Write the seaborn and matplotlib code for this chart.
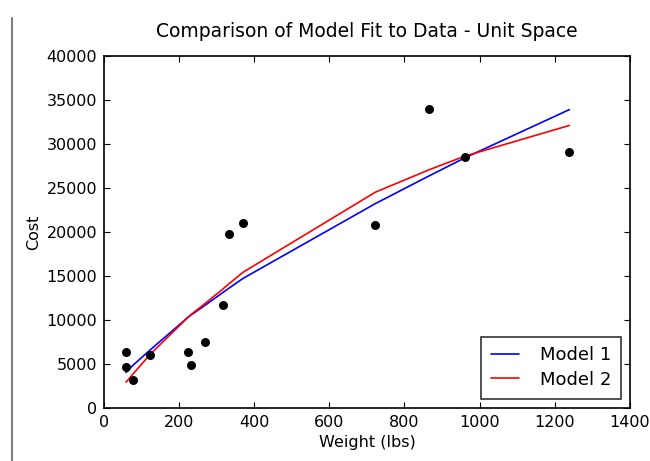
import numpy as np
import pandas as pd
import seaborn as sns
import matplotlib.pyplot as plt
from matplotlib.lines import Line2D

# Observed data (weight in lbs, cost)
weight = [58.7, 59.7, 76.5, 123.7, 224, 232, 269, 316.5, 333, 370, 722, 865, 960, 1239]
cost = [4660, 6295, 3110, 6020, 6360, 4815, 7500, 11640, 19740, 20990, 20800, 34020, 28520, 29060]

# Model predictions read at each weight
model1 = [4000, 4050, 4800, 6600, 10300, 10550, 11650, 13100, 13600, 14700, 23200, 26350, 28400, 33900]
model2 = [2900, 2950, 3800, 6100, 10300, 10600, 11850, 13500, 14100, 15400, 24500, 27050, 28600, 32100]

df = pd.DataFrame({"weight": weight, "cost": cost, "Model 1": model1, "Model 2": model2})

sns.set_style("ticks")
plt.rcParams.update({
    "xtick.direction": "in", "ytick.direction": "in",
    "xtick.top": True, "ytick.right": True,
    "xtick.major.size": 4, "ytick.major.size": 4,
    "axes.linewidth": 1.2, "font.family": ["DejaVu Sans"],
    "text.color": "black", "axes.labelcolor": "black",
    "xtick.color": "black", "ytick.color": "black", "axes.edgecolor": "black",
})

fig = plt.figure(figsize=(6.5, 4.61), dpi=100)
ax = fig.add_axes([0.160, 0.1156, 0.809, 0.763])

sns.scatterplot(data=df, x="weight", y="cost", color="black", s=42,
                edgecolor="black", linewidth=0, ax=ax, zorder=3)
sns.lineplot(data=df, x="weight", y="Model 1", color="blue", lw=1.2, ax=ax, label="Model 1")
sns.lineplot(data=df, x="weight", y="Model 2", color="red", lw=1.2, ax=ax, label="Model 2")

ax.set_xlim(0, 1400)
ax.set_ylim(0, 40000)
ax.set_xticks(np.arange(0, 1401, 200))
ax.set_yticks(np.arange(0, 40001, 5000))
ax.tick_params(labelsize=11.5, pad=5)
ax.set_xlabel("Weight (lbs)", fontsize=11.5)
ax.set_ylabel("Cost", fontsize=11.5)
ax.set_title("Comparison of Model Fit to Data - Unit Space", fontsize=13.5, pad=14)

leg = ax.legend(loc="lower right", fontsize=13, handlelength=1.55, handletextpad=1.15,
                fancybox=False, frameon=True, borderpad=0.55, labelspacing=0.35)
leg.get_frame().set_edgecolor("black")
leg.get_frame().set_linewidth(1.2)

# gray page edge on the left
fig.add_artist(Line2D([0.018, 0.018], [0, 0.96], color="#808080", lw=1.5))

fig.savefig("out.png", dpi=100)
